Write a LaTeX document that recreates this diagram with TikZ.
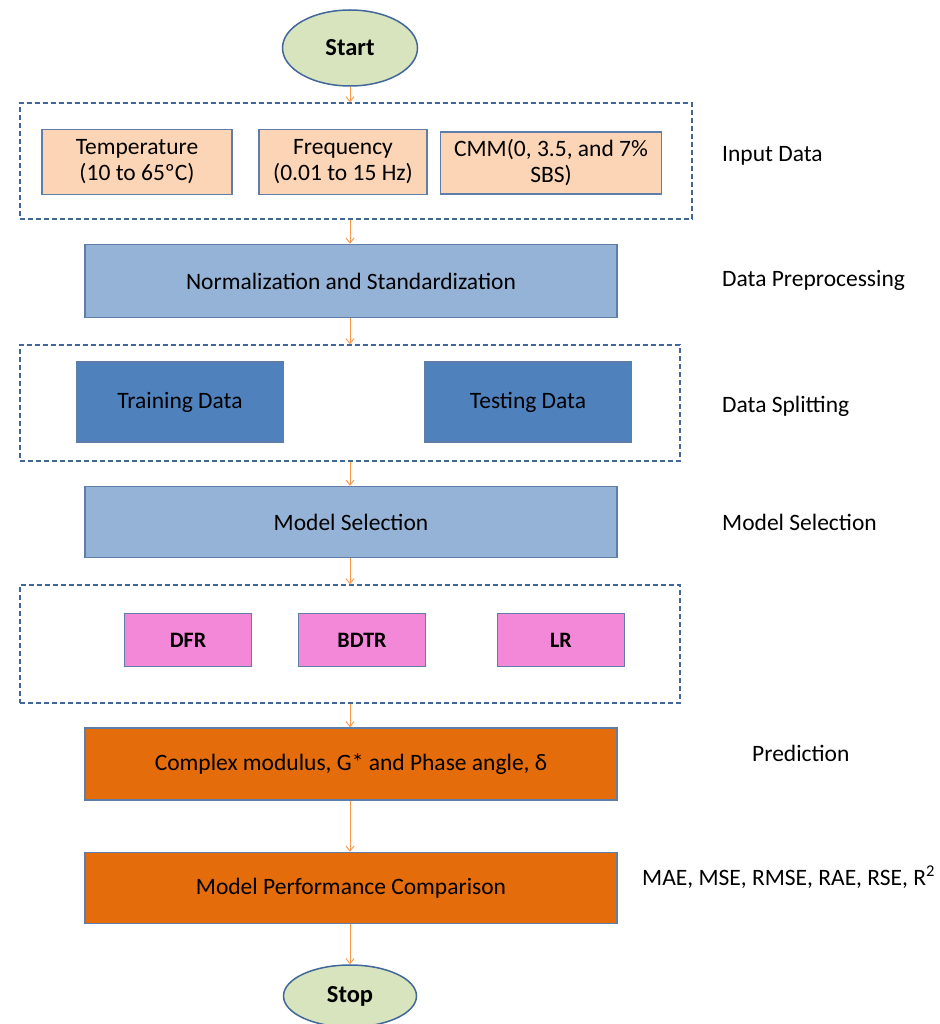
\documentclass[tikz,border=0pt]{standalone}
\usepackage{fontspec}
\setmainfont{Carlito}
\usepackage{xcolor}
\usetikzlibrary{positioning, shapes.geometric, arrows.meta}

\definecolor{termfill}{HTML}{D7E4BD}
\definecolor{termline}{HTML}{41679A}
\definecolor{peach}{HTML}{FBD5B5}
\definecolor{lightblue}{HTML}{95B3D7}
\definecolor{midblue}{HTML}{4F81BD}
\definecolor{pinkbox}{HTML}{F388D8}
\definecolor{orangebox}{HTML}{E46C0A}
\definecolor{flowline}{HTML}{F79646}

\begin{document}
\begin{tikzpicture}[x=1pt, y=-1pt,
    term/.style = {ellipse, draw=termline, line width=1.5pt, fill=termfill,
                   minimum width=#1, inner sep=0pt,
                   font=\fontsize{24.5}{28}\selectfont\bfseries},
    term/.default = 135pt,
    block/.style = {rectangle, draw=termline!85, line width=1.5pt,
                    minimum width=#1, align=center, inner sep=2pt,
                    font=\fontsize{23.5}{26}\selectfont},
    group/.style = {rectangle, draw=termline, line width=1.3pt,
                    dash pattern=on 5pt off 3pt, minimum width=#1},
    tag/.style = {anchor=west, inner sep=0pt, font=\fontsize{23.5}{26}\selectfont}
    ]
            % styles
            \tikzstyle{arrow} = [line width=0.9pt, -{Straight Barb[length=5pt, width=8pt]}, draw=flowline]

            \useasboundingbox (0,0) rectangle (939,1024);

            % start and stop
            \node (start) at (350,48) [term, minimum height=76pt] {Start};
            \node (stop) at (350,996) [term=133pt, minimum height=62pt] {Stop};

            % input data
            \node (inbox) at (356,161) [group=672pt, minimum height=116pt] {};
            \node (temp) at (137,162) [block=190pt, minimum height=65pt, fill=peach] {Temperature\\(10 to 65ºC)};
            \node (freq) at (343,162) [block=168pt, minimum height=65pt, fill=peach] {Frequency\\(0.01 to 15 Hz)};
            \node (cmm) at (551,163) [block=221pt, minimum height=62pt, fill=peach] {CMM(0, 3.5, and 7\%\\SBS)};

            % preprocessing
            \node (norm) at (351,281) [block=532pt, minimum height=73pt, fill=lightblue] {Normalization and Standardization};

            % splitting
            \node (splitbox) at (350,403) [group=660pt, minimum height=116pt] {};
            \node (train) at (180,402) [block=207pt, minimum height=80pt, fill=midblue] {Training Data};
            \node (test) at (528,402) [block=207pt, minimum height=80pt, fill=midblue] {Testing Data};

            % selection
            \node (modsel) at (351,522) [block=532pt, minimum height=71pt, fill=lightblue] {Model Selection};

            % models
            \node (dfr) at (188,640) [block=127pt, minimum height=53pt, fill=pinkbox, font=\fontsize{22}{26}\selectfont\bfseries] {DFR};
            \node (bdtr) at (362,640) [block=127pt, minimum height=53pt, fill=pinkbox, font=\fontsize{22}{26}\selectfont\bfseries] {BDTR};
            \node (lr) at (561,640) [block=127pt, minimum height=53pt, fill=pinkbox, font=\fontsize{22}{26}\selectfont\bfseries] {LR};
            \node (modbox) at (350,644) [group=660pt, minimum height=118pt] {};

            % outputs
            \node (pred) at (351,764) [block=532pt, minimum height=72pt, fill=orangebox] {Complex modulus, G* and Phase angle, δ};
            \node (perf) at (351,888) [block=532pt, minimum height=71pt, fill=orangebox] {Model Performance Comparison};

            % side labels
            \node (lbin) at (722,156) [tag] {Input Data};
            \node (lbpre) at (722,280) [tag] {Data Preprocessing};
            \node (lbsplit) at (722,406) [tag] {Data Splitting};
            \node (lbsel) at (722,522) [tag] {Model Selection};
            \node (lbpred) at (752,753) [tag] {Prediction};
            \node (lbperf) at (642,877) [tag] {MAE, MSE, RMSE, RAE, RSE, R\textsuperscript{2}};

            \draw [arrow] (start.south) -- (start.south |- inbox.north);
            \draw [arrow] (start.south |- inbox.south) -- (start.south |- norm.north);
            \draw [arrow] (start.south |- norm.south) -- (start.south |- splitbox.north);
            \draw [arrow] (start.south |- splitbox.south) -- (start.south |- modsel.north);
            \draw [arrow] (start.south |- modsel.south) -- (start.south |- modbox.north);
            \draw [arrow] (start.south |- modbox.south) -- (start.south |- pred.north);
            \draw [arrow] (start.south |- pred.south) -- (start.south |- perf.north);
            \draw [arrow] (start.south |- perf.south) -- (stop.north);
    \end{tikzpicture}
\end{document}
